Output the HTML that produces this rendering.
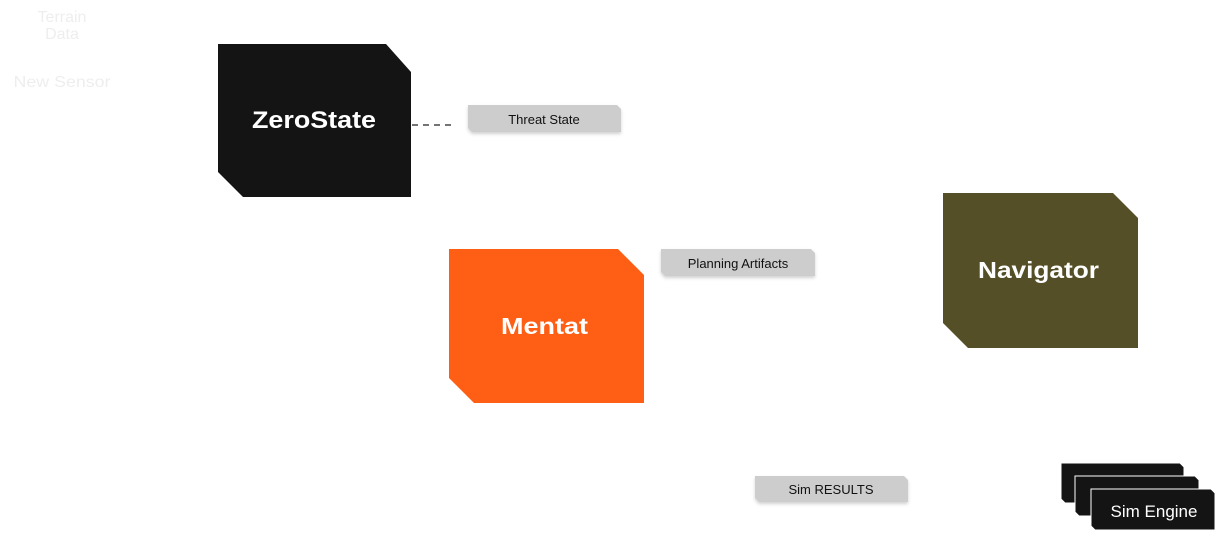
<!DOCTYPE html>
<html><head><meta charset="utf-8"><style>
html,body{margin:0;padding:0;background:#fff;width:1217px;height:534px;overflow:hidden}
svg{display:block}
</style></head><body>
<svg width="1217" height="534" viewBox="0 0 1217 534" xmlns="http://www.w3.org/2000/svg">
<defs>
<filter id="sh" x="-10%" y="-30%" width="120%" height="170%"><feDropShadow dx="0" dy="2" stdDeviation="1.5" flood-color="#000" flood-opacity="0.18"/></filter>
</defs>
<g font-family="Liberation Sans, sans-serif" fill="#eeeeee" font-size="16" text-anchor="middle">
<text x="62" y="22">Terrain</text>
<text x="62" y="39">Data</text>
<text x="62" y="87" textLength="97" lengthAdjust="spacingAndGlyphs">New Sensor</text>
</g>
<polygon points="218,44 386,44 411,72 411,197 243,197 218,172" fill="#141414"/>
<text x="252" y="128" font-family="Liberation Sans, sans-serif" font-weight="bold" font-size="24" fill="#fff" textLength="124" lengthAdjust="spacingAndGlyphs">ZeroState</text>
<line x1="412" y1="125" x2="456" y2="125" stroke="#222" stroke-width="1.3" stroke-dasharray="6,5"/>
<polygon points="468,105 617,105 621,109 621,132 472,132 468,128" fill="#cdcdcd" filter="url(#sh)"/>
<text x="544" y="124" font-family="Liberation Sans, sans-serif" font-size="13" fill="#111" text-anchor="middle">Threat State</text>
<polygon points="449,249 618,249 644,275 644,403 474,403 449,378" fill="#ff5f15"/>
<text x="501" y="334" font-family="Liberation Sans, sans-serif" font-weight="bold" font-size="23" fill="#fff" textLength="87" lengthAdjust="spacingAndGlyphs">Mentat</text>
<polygon points="661,249 811,249 815,253 815,276 665,276 661,272" fill="#cdcdcd" filter="url(#sh)"/>
<text x="738" y="268" font-family="Liberation Sans, sans-serif" font-size="13" fill="#111" text-anchor="middle">Planning Artifacts</text>
<polygon points="943,193 1113,193 1138,218 1138,348 968,348 943,323" fill="#554f27"/>
<text x="978" y="278" font-family="Liberation Sans, sans-serif" font-weight="bold" font-size="23" fill="#fff" textLength="121" lengthAdjust="spacingAndGlyphs">Navigator</text>
<polygon points="755,476 904,476 908,480 908,502 759,502 755,498" fill="#cdcdcd" filter="url(#sh)"/>
<text x="831" y="494" font-family="Liberation Sans, sans-serif" font-size="13" fill="#111" text-anchor="middle">Sim RESULTS</text>
<g stroke="#fff" stroke-width="1">
<polygon points="1061,463 1180,463 1184,467 1184,503 1065,503 1061,499" fill="#141414"/>
<polygon points="1075,476 1195,476 1199,480 1199,516 1079,516 1075,512" fill="#141414"/>
<polygon points="1091,489 1211,489 1215,493 1215,530 1095,530 1091,526" fill="#141414"/>
</g>
<text x="1154" y="517" font-family="Liberation Sans, sans-serif" font-size="17" fill="#fff" text-anchor="middle">Sim Engine</text>
</svg>
</body></html>
